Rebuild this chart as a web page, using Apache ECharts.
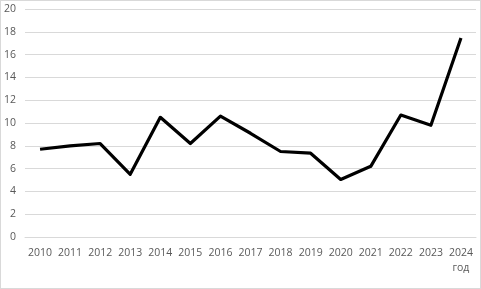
<!DOCTYPE html>
<html><head><meta charset="utf-8">
<script src="https://cdn.jsdelivr.net/npm/echarts@6/dist/echarts.min.js"></script>
<style>html,body{margin:0;padding:0;background:#fff}#c{width:479px;height:287px;border:1px solid #d9d9d9}</style>
</head><body><div id="c"></div>
<script>
var years = ['2010','2011','2012','2013','2014','2015','2016','2017','2018','2019','2020','2021','2022','2023','2024'];
var values = [7.7, 8.0, 8.2, 5.5, 10.5, 8.2, 10.6, 9.1, 7.5, 7.35, 5.05, 6.2, 10.7, 9.8, 17.45];
var unitLabel = 'год';
var yMin = 0, yMax = 20, yStep = 2;

var chart = echarts.init(document.getElementById('c'), null, {renderer:'canvas'});
chart.setOption({
  animation:false,
  grid:{left:24, right:4, top:8, bottom:51, containLabel:false},
  xAxis:{type:'category', data:years, boundaryGap:true,
    axisLine:{show:true, lineStyle:{color:'#d9d9d9', width:1}},
    axisTick:{show:false},
    axisLabel:{color:'#595959', fontFamily:'Open Sans', fontSize:10.5, margin:9, interval:0, lineHeight:15,
      formatter:function(v, i){ return i === years.length-1 ? v + '\n' + unitLabel : v; }}
  },
  yAxis:{type:'value', min:yMin, max:yMax, interval:yStep,
    axisLine:{show:false}, axisTick:{show:false},
    splitLine:{lineStyle:{color:'#d9d9d9', width:1}},
    axisLabel:{color:'#595959', fontFamily:'Open Sans', fontSize:10.5, margin:9}
  },
  series:[{type:'line', data:values, showSymbol:false, symbol:'none',
    lineStyle:{color:'#000', width:3.2, join:'round'}}]
});
</script></body></html>
